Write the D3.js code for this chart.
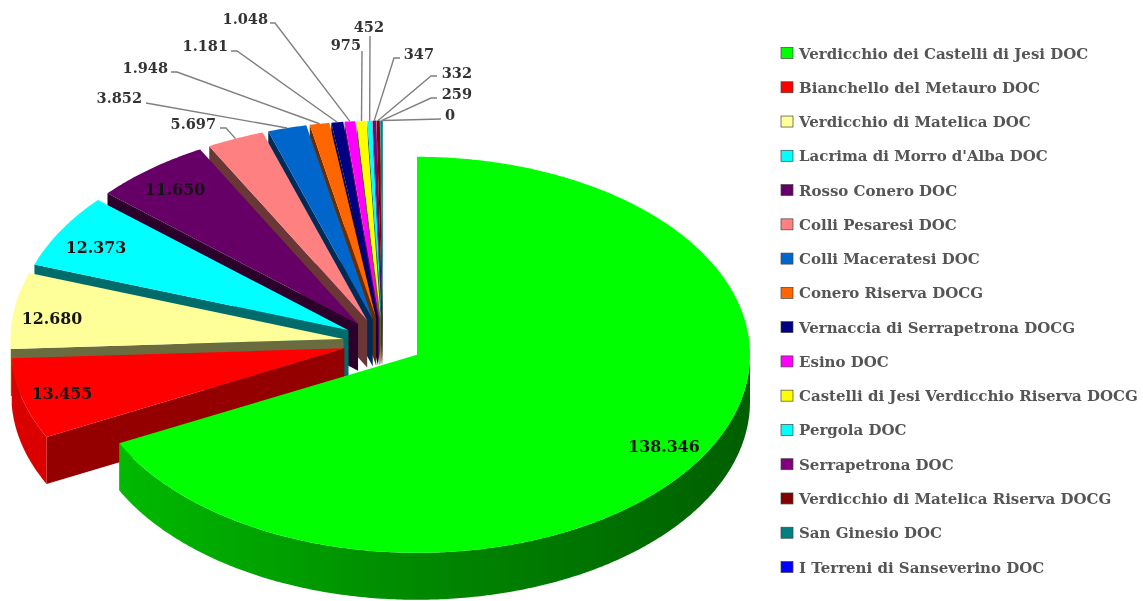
<!DOCTYPE html>
<html>
<head>
<meta charset="utf-8">
<script src="https://cdn.jsdelivr.net/npm/d3@7"></script>
<style>
  html, body { margin: 0; background: #fff; }
  svg { display: block; filter: blur(0.5px); }
  text { font-family: "DejaVu Serif", serif; }
  .value { font-weight: bold; font-size: 14.5px; fill: #333; }
  .inner { fill: #151515; font-size: 15.8px; }
  .legend { font-size: 15px; font-weight: bold; fill: #555; }
</style>
</head>
<body>
<div id="chart"></div>
<script>
"use strict"

// data
const names = [
    "Verdicchio dei Castelli di Jesi DOC", "Bianchello del Metauro DOC",
    "Verdicchio di Matelica DOC", "Lacrima di Morro d'Alba DOC",
    "Rosso Conero DOC", "Colli Pesaresi DOC", "Colli Maceratesi DOC",
    "Conero Riserva DOCG", "Vernaccia di Serrapetrona DOCG", "Esino DOC",
    "Castelli di Jesi Verdicchio Riserva DOCG", "Pergola DOC",
    "Serrapetrona DOC", "Verdicchio di Matelica Riserva DOCG",
    "San Ginesio DOC", "I Terreni di Sanseverino DOC"
]
const values = [138346, 13455, 12680, 12373, 11650, 5697, 3852, 1948, 1181, 1048, 975, 452, 347, 332, 259, 0]
const valueLabels = ["138.346", "13.455", "12.680", "12.373", "11.650", "5.697", "3.852", "1.948",
    "1.181", "1.048", "975", "452", "347", "332", "259", "0"]
const colors = ["#00ff00", "#ff0000", "#ffff99", "#00ffff", "#660066", "#ff8080", "#0066cc", "#ff6600",
    "#000080", "#ff00ff", "#ffff00", "#00ffff", "#800080", "#800000", "#008080", "#0000ff"]

// Pie geometry
const WIDTH = 1143, HEIGHT = 601
const PIE = { cx: 383, cy: 342.3, rx: 333, ry: 198, depth: 47, explode: 0.12 }

// Label placement, text position first, then the leader line start and elbow
const INNER_LABELS = { 0: [664, 452], 1: [62, 399], 2: [52, 324], 3: [96, 253], 4: [175, 195] }
const LEADERS = {
    5:  { tx: 216, ty: 129, x0: 220, y0: 128, x1: 226, y1: 128 },
    6:  { tx: 142, ty: 103, x0: 146, y0: 103, x1: 146, y1: 103 },
    7:  { tx: 168, ty: 73,  x0: 171, y0: 72,  x1: 177, y1: 72 },
    8:  { tx: 228, ty: 51,  x0: 231, y0: 51,  x1: 237, y1: 51 },
    9:  { tx: 268, ty: 24,  x0: 270, y0: 23,  x1: 275, y1: 23 },
    10: { tx: 361, ty: 50,  x0: 362, y0: 51,  x1: 362, y1: 51 },
    11: { tx: 384, ty: 32,  x0: 370, y0: 36,  x1: 370, y1: 36 },
    12: { tx: 434, ty: 59,  x0: 400, y0: 58,  x1: 394, y1: 58 },
    13: { tx: 472, ty: 78,  x0: 437, y0: 76,  x1: 431, y1: 76 },
    14: { tx: 472, ty: 99,  x0: 437, y0: 98,  x1: 431, y1: 98 },
    15: { tx: 455, ty: 120, x0: 441, y0: 119, x1: 441, y1: 119 }
}

// unit circle -> pixels
const xScale = d3.scaleLinear().domain([-1, 1]).range([PIE.cx - PIE.rx, PIE.cx + PIE.rx])
const yScale = d3.scaleLinear().domain([-1, 1]).range([PIE.cy - PIE.ry, PIE.cy + PIE.ry])

const slices = d3.pie().sort(null).value((d) => d)(values).map((s, i) => {
    s.mid = (s.startAngle + s.endAngle) / 2
    s.color = colors[i]
    s.index = i
    return s
})

function point(s, angle, r, z) {
    let ux = PIE.explode * Math.sin(s.mid) + r * Math.sin(angle)
    let uy = -PIE.explode * Math.cos(s.mid) - r * Math.cos(angle)
    return [xScale(ux), yScale(uy) + z]
}

function arcPoints(s, a0, a1, z) {
    let steps = Math.max(2, Math.ceil((a1 - a0) / 0.01))
    return d3.range(steps + 1).map((k) => point(s, a0 + (a1 - a0) * k / steps, 1, z))
}

function shade(color, k) {
    let c = d3.rgb(color)
    return d3.rgb(c.r * k, c.g * k, c.b * k).formatHex()
}

const line = d3.line()
const svg = d3.select("#chart").append("svg").attr("width", WIDTH).attr("height", HEIGHT)

// side of the big slice darkens to the right
const grad = svg.append("defs").append("linearGradient").attr("id", "greenSide")
    .attr("gradientUnits", "userSpaceOnUse")
    .attr("x1", xScale(-0.9)).attr("x2", xScale(1.2)).attr("y1", 0).attr("y2", 0)
grad.append("stop").attr("offset", "0%").attr("stop-color", "#00c000")
grad.append("stop").attr("offset", "45%").attr("stop-color", "#008c00")
grad.append("stop").attr("offset", "100%").attr("stop-color", "#005a00")

const pieGroup = svg.append("g")

// paint from the back slice forward, big slice last
const order = slices.slice(1).reverse().concat([slices[0]])
order.forEach((s) => {
    let g = pieGroup.append("g")
    let apex = point(s, 0, 0, 0)

    // radial wall at the start of the slice
    if (s.index > 0) {
        let p = point(s, s.startAngle, 1, 0)
        let q = point(s, s.startAngle, 1, PIE.depth)
        let apexLow = point(s, 0, 0, PIE.depth)
        g.append("path").attr("d", line([apex, p, q, apexLow]) + "Z")
            .attr("fill", shade(s.color, s.index === 1 ? 0.58 : 0.42))
    }

    // outer wall, only the front half shows
    let a0 = Math.max(s.startAngle, Math.PI / 2)
    let a1 = Math.min(s.endAngle, Math.PI * 1.5)
    if (a1 > a0) {
        let wall = arcPoints(s, a0, a1, 0).concat(arcPoints(s, a0, a1, PIE.depth).reverse())
        g.append("path").attr("d", line(wall) + "Z")
            .attr("fill", s.index === 0 ? "url(#greenSide)" : shade(s.color, 0.86))
    }

    // top face
    if (s.value > 0) {
        g.append("path").attr("d", line([apex].concat(arcPoints(s, s.startAngle, s.endAngle, 0))) + "Z")
            .attr("fill", s.color)
    }
})

// leader lines and their labels
const labelGroup = svg.append("g")
Object.keys(LEADERS).forEach((key) => {
    let i = +key
    let l = LEADERS[key]
    let end = point(slices[i], slices[i].mid, 1, 0)
    labelGroup.append("path")
        .attr("d", line([[l.x0, l.y0], [l.x1, l.y1], end]))
        .attr("fill", "none").attr("stroke", "#7f7f7f").attr("stroke-width", 1.4)
    labelGroup.append("text").attr("class", "value")
        .attr("x", l.tx).attr("y", l.ty).attr("text-anchor", "end")
        .text(valueLabels[i])
})

Object.keys(INNER_LABELS).forEach((key) => {
    let pos = INNER_LABELS[key]
    labelGroup.append("text").attr("class", "value inner")
        .attr("x", pos[0]).attr("y", pos[1]).attr("text-anchor", "middle")
        .text(valueLabels[+key])
})

// legend
const legendY = d3.scalePoint().domain(names).range([53, 567])
const legend = svg.append("g").selectAll("g").data(names).join("g")
    .attr("transform", (d) => "translate(781," + legendY(d) + ")")
legend.append("rect").attr("x", 0).attr("y", -5.5).attr("width", 12).attr("height", 11)
    .attr("fill", (d, i) => colors[i]).attr("stroke", "#444").attr("stroke-width", 0.7)
legend.append("text").attr("class", "legend").attr("x", 18).attr("y", 5.5).text((d) => d)
</script>
</body>
</html>
